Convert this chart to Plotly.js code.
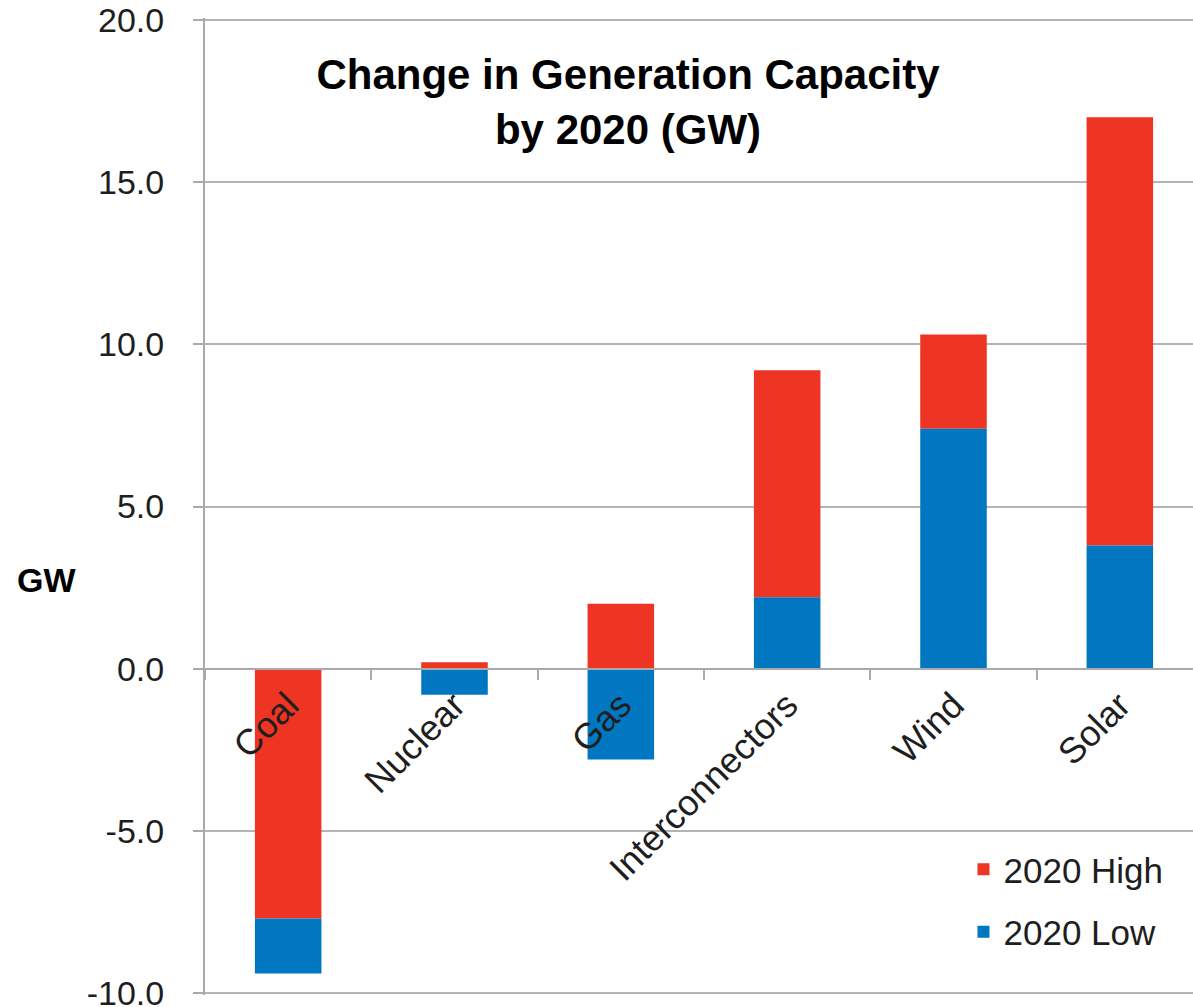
<!DOCTYPE html>
<html>
<head>
<meta charset="utf-8">
<script src="https://cdn.plot.ly/plotly-3.0.1.min.js"></script>
<style>
html,body{margin:0;padding:0;overflow:hidden;background:#fff;}
#chart{width:1203px;height:1007px;}
</style>
</head>
<body>
<div id="chart"></div>
<script>
// Data (GW)
const categories = ["Coal", "Nuclear", "Gas", "Interconnectors", "Wind", "Solar"];
const high2020 = [-7.7, 0.2, 2.0, 9.2, 10.3, 17.0];
const low2020 = [-9.4, -0.8, -2.8, 2.2, 7.4, 3.8];
const yTickVals = [-10, -5, 0, 5, 10, 15, 20];
const yTickText = ["-10.0", "-5.0", "0.0", "5.0", "10.0", "15.0", "20.0"];

// The smaller-magnitude value is shown nearest zero; the larger one extends beyond it.
const hiBase = [], hiLen = [], loBase = [], loLen = [];
for (let i = 0; i < categories.length; i++) {
  const h = high2020[i], l = low2020[i];
  if (h * l > 0) {
    if (Math.abs(h) <= Math.abs(l)) {
      hiBase.push(0); hiLen.push(h);
      loBase.push(h); loLen.push(l - h);
    } else {
      loBase.push(0); loLen.push(l);
      hiBase.push(l); hiLen.push(h - l);
    }
  } else {
    hiBase.push(0); hiLen.push(h);
    loBase.push(0); loLen.push(l);
  }
}

const FONT = '"Liberation Sans", Arial, sans-serif';
const RED = '#EE3524';
const BLUE = '#0077C0';
const TXT = '#1e1e1e';

const traces = [
  {type: 'bar', name: '2020 High', x: categories, y: hiLen, base: hiBase,
   marker: {color: RED}, legendgroup: 'h'},
  {type: 'bar', name: '2020 Low', x: categories, y: loLen, base: loBase,
   marker: {color: BLUE}, legendgroup: 'l'}
];

const yMin = -10.06, yMax = 20.06;
const T = 18, B = 12, H = 1007;
const plotH = H - T - B;
function yPaper(pix) { return (H - B - pix) / plotH; }

const layout = {
  width: 1203, height: H,
  margin: {l: 205, r: 0, t: T, b: B},
  paper_bgcolor: '#fff', plot_bgcolor: '#fff',
  barmode: 'overlay', bargap: 0.6,
  font: {family: FONT, color: TXT, size: 35},
  title: {
    text: '<b>Change in Generation Capacity<br>by 2020 (GW)</b>',
    font: {family: FONT, size: 42, color: '#000'},
    xref: 'paper', yref: 'paper', x: (628 - 205) / 998, y: yPaper(89),
    xanchor: 'center', yanchor: 'middle'
  },
  xaxis: {
    type: 'category', anchor: 'free', position: (0 - yMin) / (yMax - yMin),
    showgrid: false, showline: true, linecolor: '#aaaaaa', linewidth: 2,
    ticks: 'outside', tickson: 'boundaries', ticklen: 10, tickcolor: '#aaaaaa', tickwidth: 2,
    tickangle: -45, tickfont: {family: FONT, size: 36, color: TXT},
    zeroline: false, fixedrange: true
  },
  yaxis: {
    range: [yMin, yMax], domain: [0, 1],
    tickvals: yTickVals, ticktext: yTickText,
    showgrid: true, gridcolor: '#b4b4b4', gridwidth: 2,
    showline: true, linecolor: '#aaaaaa', linewidth: 2,
    ticks: 'outside', ticklen: 10, tickcolor: '#aaaaaa', tickwidth: 2,
    ticklabelstandoff: 22, ticklabeloverflow: 'allow',
    tickfont: {family: FONT, size: 34, color: TXT},
    zeroline: false, fixedrange: true
  },
  showlegend: true,
  legend: {
    x: 0.76, y: yPaper(840), xanchor: 'left', yanchor: 'top',
    bgcolor: 'rgba(0,0,0,0)', traceorder: 'grouped', tracegroupgap: 14,
    font: {family: FONT, size: 35, color: TXT}, itemwidth: 30
  },
  annotations: [{
    text: '<b>GW</b>', xref: 'paper', yref: 'paper',
    x: (15 - 205) / 998, y: yPaper(580), xanchor: 'left', yanchor: 'middle',
    showarrow: false, font: {family: FONT, size: 34, color: '#000'}
  }]
};

Plotly.newPlot('chart', traces, layout, {displayModeBar: false, staticPlot: true});
</script>
</body>
</html>
